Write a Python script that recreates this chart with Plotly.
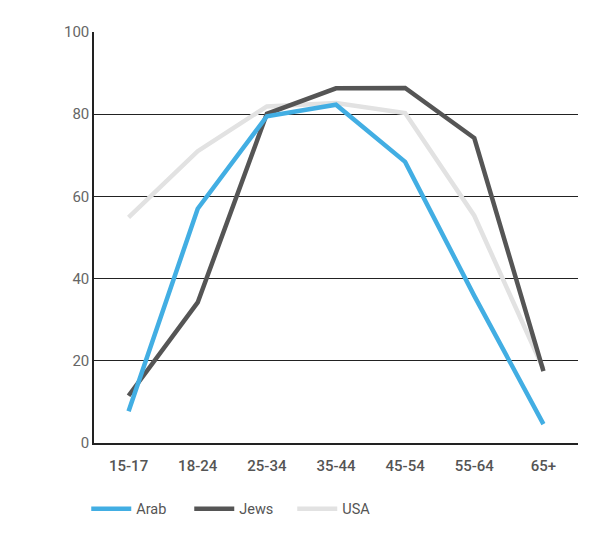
import plotly.graph_objects as go

categories = ["15-17", "18-24", "25-34", "35-44", "45-54", "55-64", "65+"]
arab = [7.7, 57, 79.5, 82.3, 68.4, 35.8, 4.6]
jews = [11.5, 34.2, 80.1, 86.3, 86.4, 74.2, 17.5]
usa = [54.9, 71, 81.9, 82.7, 80.3, 55.3, 18]
y_ticks = [0, 20, 40, 60, 80, 100]

fig = go.Figure()
fig.add_trace(go.Scatter(x=categories, y=usa, name="USA", mode="lines",
                         line=dict(color="#e2e2e2", width=4.5)))
fig.add_trace(go.Scatter(x=categories, y=jews, name="Jews", mode="lines",
                         line=dict(color="#555555", width=4.5)))
fig.add_trace(go.Scatter(x=categories, y=arab, name="Arab", mode="lines",
                         line=dict(color="#42aee3", width=4.5)))

fig.update_layout(
    width=602, height=548,
    margin=dict(l=86, r=32, t=24, b=113),
    paper_bgcolor="white", plot_bgcolor="white",
    font=dict(family="Roboto, sans-serif", color="#555555"),
    showlegend=True,
    legend=dict(orientation="h", x=-0.016, xanchor="left", y=-0.16, yanchor="middle",
                traceorder="reversed", itemwidth=40, entrywidth=48, entrywidthmode="pixels",
                font=dict(size=14.5, color="#555555")),
    xaxis=dict(type="category", range=[-0.5, 6.5], showgrid=False,
               showline=True, linecolor="#222222", linewidth=1.5,
               ticks="outside", ticklen=8, tickcolor="rgba(0,0,0,0)",
               tickfont=dict(size=15, color="#555555", weight=500),
               zeroline=False),
    yaxis=dict(range=[0, 100], tickvals=y_ticks, showgrid=True,
               gridcolor="#222222", gridwidth=1,
               showline=True, linecolor="#222222", linewidth=1.5,
               ticks="", tickfont=dict(size=15, color="#666666"),
               zeroline=False),
)

fig.write_html("out.html")
